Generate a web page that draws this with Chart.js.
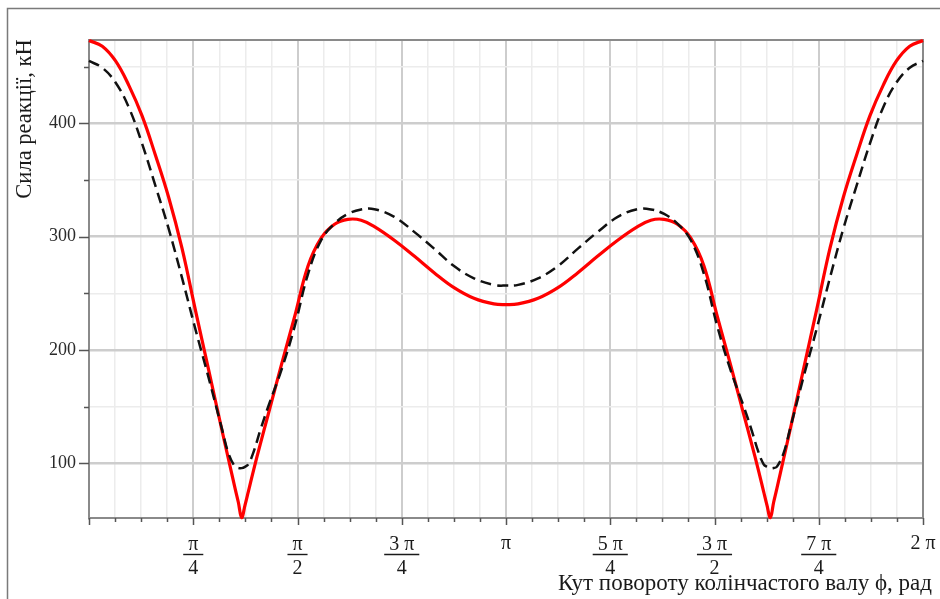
<!DOCTYPE html>
<html>
<head>
<meta charset="utf-8">
<script src="https://cdn.jsdelivr.net/npm/chart.js@4.4.1/dist/chart.umd.min.js"></script>
<style>
  html, body { margin: 0; padding: 0; background: #fff; }
  #wrap { width: 940px; height: 599px; position: relative; }
</style>
</head>
<body>
<div id="wrap"><canvas id="chart" width="940" height="599"></canvas></div>
<script>
// кут повороту, рад
const phi = [
  0, 0.1, 0.2, 0.3, 0.4, 0.5, 0.6, 0.7, 0.8, 0.9, 1.0, 1.05, 1.1, 1.125, 1.15, 1.175, 1.2, 1.24, 1.29,
  1.35, 1.45, 1.55, 1.65, 1.75, 1.85, 1.95, 2.05, 2.15, 2.3, 2.45, 2.6, 2.75, 2.9, 3.05, 3.1416,
  3.233, 3.383, 3.533, 3.683, 3.833, 3.983, 4.133, 4.233, 4.333, 4.433, 4.533, 4.633, 4.733, 4.833,
  4.933, 4.993, 5.043, 5.083, 5.108, 5.133, 5.158, 5.183, 5.233, 5.283, 5.383, 5.483, 5.583, 5.683,
  5.783, 5.883, 5.983, 6.083, 6.183, 6.2832
];
// сила реакції, кН (суцільна червона)
const forceSolid = [
  473, 468, 455, 433.5, 406.5, 372, 334.7, 290, 236, 183, 130, 104, 78, 65.6, 52, 62.8, 74.7, 94, 116.7,
  143, 187, 229.7, 274, 298.8, 310.9, 315.2, 314.5, 308.8, 296.8, 282.8, 268.2, 255, 245.6, 240.6, 240,
  240.6, 245.6, 255, 268.2, 282.8, 296.8, 308.8, 314.5, 315.2, 310.9, 298.8, 274, 229.7, 187,
  143, 116.7, 94, 74.7, 62.8, 52, 65.6, 78, 104, 130, 183, 236, 290, 334.7,
  372, 406.5, 433.5, 455, 468, 473
];
// сила реакції, кН (штрихова)
const forceDashed = [
  455, 449, 436, 414, 382, 345, 307, 264, 219, 176, 131, 109, 97, 95.8, 95.7, 96.8, 99.1, 110, 128.9,
  150, 182.4, 221, 267, 297, 311.5, 320, 324, 324.2, 317.4, 304.2, 289.4, 274, 263.2, 257.4, 256.8,
  257.4, 263.2, 274, 289.4, 304.2, 317.4, 324.2, 324, 320, 311.5, 297, 267, 221, 182.4,
  150, 128.9, 110, 99.1, 96.8, 95.7, 95.8, 97, 109, 131, 176, 219, 264, 307,
  345, 382, 414, 436, 449, 455
];
const yLabels = [100, 200, 300, 400];
const yMinorTicks = [150, 250, 350, 450];
const xTickPi = [0.25, 0.5, 0.75, 1, 1.25, 1.5, 1.75, 2];
const xTickNum = ['π', 'π', '3 π', 'π', '5 π', '3 π', '7 π', '2 π'];
const xTickDen = ['4', '2', '4', '', '4', '2', '4', ''];
const yTitle = 'Сила реакції, кН';
const xTitle = 'Кут повороту колінчастого валу ϕ, рад';

const SERIF = '"Liberation Serif", "Times New Roman", serif';
const STEP = Math.PI / 16;

const extras = {
  id: 'extras',
  beforeDraw(chart) {
    const c = chart.ctx;
    c.save();
    c.fillStyle = '#fff';
    c.fillRect(0, 0, chart.width, chart.height);
    c.strokeStyle = '#7a7a7a';
    c.lineWidth = 1.5;
    c.beginPath();
    c.moveTo(7.5, chart.height);
    c.lineTo(7.5, 8.5);
    c.lineTo(chart.width, 8.5);
    c.stroke();
    c.restore();
  },
  beforeDatasetsDraw(chart) {
    const c = chart.ctx;
    const a = chart.chartArea;
    const xs = chart.scales.x, ys = chart.scales.y;
    c.save();
    c.strokeStyle = '#8a8a8a';
    c.lineWidth = 2;
    c.beginPath();
    c.moveTo(a.left, a.top);
    c.lineTo(a.right, a.top);
    c.lineTo(a.right, a.bottom);
    c.stroke();
    // tick marks
    c.strokeStyle = '#555';
    c.lineWidth = 1.5;
    c.beginPath();
    for (let k = 0; k <= 32; k++) {
      const x = Math.round(xs.getPixelForValue(k * STEP)) + 0.5;
      const len = k % 4 === 0 ? 7 : 4;
      c.moveTo(x, a.bottom);
      c.lineTo(x, a.bottom + len);
    }
    yLabels.concat(yMinorTicks).forEach(v => {
      const y = Math.round(ys.getPixelForValue(v)) + 0.5;
      const len = yLabels.includes(v) ? 10 : 5;
      c.moveTo(a.left, y);
      c.lineTo(a.left - len, y);
    });
    c.stroke();
    c.restore();
  },
  afterDraw(chart) {
    const c = chart.ctx;
    const xs = chart.scales.x;
    c.save();
    c.fillStyle = '#1a1a1a';
    c.strokeStyle = '#1a1a1a';
    c.font = '20px ' + SERIF;
    c.textAlign = 'center';
    c.textBaseline = 'alphabetic';
    xTickPi.forEach((p, i) => {
      const x = xs.getPixelForValue(p * Math.PI);
      if (xTickDen[i] === '') {
        c.fillText(xTickNum[i], x, 549);
      } else {
        c.fillText(xTickNum[i], x, 550);
        const w = c.measureText(xTickNum[i]).width + 10;
        c.lineWidth = 1.4;
        c.beginPath();
        c.moveTo(x - w / 2, 554.5);
        c.lineTo(x + w / 2, 554.5);
        c.stroke();
        c.fillText(xTickDen[i], x, 574);
      }
    });
    c.font = '23px ' + SERIF;
    c.textAlign = 'right';
    c.fillText(xTitle, 932, 590);
    c.translate(31, 119);
    c.rotate(-Math.PI / 2);
    c.textAlign = 'center';
    c.font = '22.5px ' + SERIF;
    c.fillText(yTitle, 0, 0);
    c.restore();
  }
};

new Chart(document.getElementById('chart'), {
  type: 'line',
  data: {
    datasets: [
      {
        data: phi.map((p, i) => ({ x: p, y: forceDashed[i] })),
        borderColor: '#111',
        borderWidth: 2.5,
        borderDash: [11, 6],
        pointRadius: 0,
        tension: 0.4,
        clip: 4
      },
      {
        data: phi.map((p, i) => ({ x: p, y: forceSolid[i] })),
        borderColor: '#ff0000',
        borderWidth: 3.2,
        pointRadius: 0,
        tension: 0.4,
        clip: 4
      }
    ]
  },
  plugins: [extras],
  options: {
    responsive: false,
    devicePixelRatio: 1,
    animation: false,
    layout: { padding: { top: 40, right: 17, left: 0, bottom: 0 } },
    plugins: { legend: { display: false }, tooltip: { enabled: false } },
    scales: {
      x: {
        type: 'linear',
        min: 0,
        max: 2 * Math.PI,
        afterBuildTicks(s) {
          const t = [];
          for (let k = 0; k <= 32; k++) t.push({ value: k * STEP });
          s.ticks = t;
        },
        afterFit(s) { s.height = 81; },
        ticks: { display: false },
        grid: {
          drawTicks: false,
          color: ctx => {
            const k = Math.round(ctx.tick.value / STEP);
            return k % 4 === 0 ? '#cdcdcd' : '#ececec';
          },
          lineWidth: ctx => (Math.round(ctx.tick.value / STEP) % 4 === 0 ? 2 : 1.5)
        },
        border: { color: '#8a8a8a', width: 2 }
      },
      y: {
        min: 51.7,
        max: 473.5,
        afterBuildTicks(s) {
          s.ticks = yLabels.concat(yMinorTicks).sort((a, b) => a - b).map(v => ({ value: v }));
        },
        afterFit(s) { s.width = 89; },
        ticks: {
          padding: 13,
          color: '#2a2a2a',
          font: { family: SERIF, size: 18 },
          callback: v => (yLabels.includes(v) ? String(v) : '')
        },
        grid: {
          drawTicks: false,
          color: ctx => (yLabels.includes(ctx.tick.value) ? '#cdcdcd' : '#ececec'),
          lineWidth: ctx => (yLabels.includes(ctx.tick.value) ? 2.5 : 1.5)
        },
        border: { color: '#8a8a8a', width: 2 }
      }
    }
  }
});
</script>
</body>
</html>
